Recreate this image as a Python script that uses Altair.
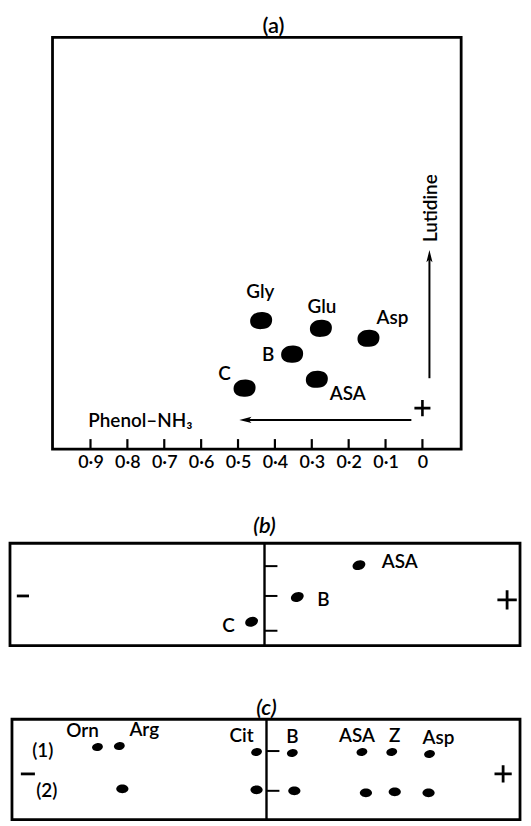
import altair as alt
import pandas as pd

FONT = "Lato"
W = 516

# ---------------- data ----------------
# (a) two-dimensional paper chromatogram: Rf phenol-NH3 (x), Rf lutidine (y)
a_names = ["Gly", "Glu", "Asp", "B", "C", "ASA"]
a_phenol = [0.437, 0.275, 0.146, 0.353, 0.482, 0.286]
a_lutidine = [0.237, 0.216, 0.189, 0.146, 0.054, 0.078]
a_tick_values = [0.0, 0.1, 0.2, 0.3, 0.4, 0.5, 0.6, 0.7, 0.8, 0.9]

# (b) paper electrophoresis: distance from origin (cm, + toward anode), lane position (cm from top)
b_names = ["ASA", "B", "C"]
b_dist = [1.90, 0.66, -0.26]
b_lane = [0.44, 1.08, 1.58]
b_origins = [0.46, 1.06, 1.76]

# (c) paper electrophoresis, two runs
c1_names = ["Orn", "Arg", "Cit", "B", "ASA", "Z", "Asp"]
c1_dist = [-3.40, -2.96, -0.20, 0.52, 1.92, 2.52, 3.28]
c1_lane = [0.56, 0.54, 0.66, 0.68, 0.66, 0.66, 0.70]
c2_names = ["Arg", "Cit", "B", "ASA", "Z", "Asp"]
c2_dist = [-2.90, -0.20, 0.56, 2.00, 2.58, 3.26]
c2_lane = [1.40, 1.42, 1.44, 1.48, 1.46, 1.48]
c_origins = [0.64, 1.44]
c_run_labels = ["(1)", "(2)"]

# ---------------- shapes ----------------
BLOB = ("M-1,0.05 C-1,-0.5 -0.5,-0.8 0.1,-0.78 C0.65,-0.76 1,-0.5 0.98,-0.05 "
        "C0.97,0.4 0.7,0.74 0.05,0.76 C-0.55,0.8 -1,0.55 -1,0.05 Z")
ELL = "M-1,0 A1,0.72 0 1,1 1,0 A1,0.72 0 1,1 -1,0 Z"
PLUS = "M-1,0 L1,0 M0,-1 L0,1"
MINUS = "M-1,0 L1,0"
HEAD_L = "M-1,0 L1,-0.5 L0.55,0 L1,0.5 Z"
HEAD_U = "M0,-1 L-0.5,1 L0,0.55 L0.5,1 Z"

TXT = dict(font=FONT, fontSize=19, fontWeight=600, color="black")
TTL = dict(font=FONT, fontSize=22, fontWeight=600, color="black")

# ================= panel (a) =================
AX = alt.Scale(domain=[-0.270, 1.121], reverse=True, nice=False, zero=False)
AY = alt.Scale(domain=[-0.113, 1.078], nice=False, zero=False)
AXIS_A = alt.Axis(values=a_tick_values, ticks=False, domain=False, grid=False,
                  title=None, labelFont=FONT, labelFontSize=18, labelColor="black",
                  labelPadding=4, labelFontWeight=600,
                  labelExpr="datum.value == 0 ? '0' : replace(format(datum.value, '.1f'), '.', '·')")


def ax(field, **kw):
    return alt.X(field, type="quantitative", scale=AX, axis=AXIS_A, **kw)


def ay(field):
    return alt.Y(field, type="quantitative", scale=AY, axis=None)


df_a = pd.DataFrame({"name": a_names, "x": a_phenol, "y": a_lutidine})
frame_a = pd.DataFrame({"x": [1.003], "x2": [-0.105], "y": [-0.111], "y2": [1.005]})
ticks_a = pd.DataFrame({"x": a_tick_values, "y": [-0.111] * 10, "y2": [-0.084] * 10})

a_layers = [
    alt.Chart(frame_a).mark_rect(fillOpacity=0, stroke="black", strokeWidth=2.8).encode(
        x=ax("x"), x2="x2", y=ay("y"), y2="y2"),
    alt.Chart(ticks_a).mark_rule(strokeWidth=2.2, color="black").encode(
        x=ax("x"), y=ay("y"), y2="y2"),
    alt.Chart(df_a).mark_point(shape=BLOB, filled=True, size=500, color="black",
                               opacity=1, strokeWidth=0).encode(x=ax("x"), y=ay("y")),
]

a_label_pos = {  # align, dx, dy (baseline)
    "Gly": ("center", -1, -23),
    "Glu": ("center", 1, -15),
    "Asp": ("left", 8, -14),
    "B": ("right", -18, 7),
    "C": ("right", -14, -8),
    "ASA": ("left", 13, 21),
}
for nm, (al, dx, dy) in a_label_pos.items():
    a_layers.append(
        alt.Chart(df_a).transform_filter(alt.datum.name == nm).mark_text(
            align=al, baseline="alphabetic", dx=dx, dy=dy, **TXT).encode(
            x=ax("x"), y=ay("y"), text="name:N"))

# origin, solvent directions
origin_a = pd.DataFrame({"x": [0.0], "y": [0.0]})
a_layers.append(alt.Chart(origin_a).mark_point(shape=PLUS, filled=False, strokeWidth=2.6,
                                               size=260, color="black", opacity=1).encode(
    x=ax("x"), y=ay("y")))
arrow_h = pd.DataFrame({"x": [0.03], "x2": [0.48], "y": [-0.032]})
a_layers.append(alt.Chart(arrow_h).mark_rule(strokeWidth=2, color="black").encode(
    x=ax("x"), x2="x2", y=ay("y")))
a_layers.append(alt.Chart(arrow_h).mark_point(shape=HEAD_L, filled=True, size=150,
                                              color="black", opacity=1).encode(
    x=ax("x2"), y=ay("y")))
arrow_v = pd.DataFrame({"x": [-0.019], "y": [0.081], "y2": [0.412]})
a_layers.append(alt.Chart(arrow_v).mark_rule(strokeWidth=2, color="black").encode(
    x=ax("x"), y=ay("y"), y2="y2"))
a_layers.append(alt.Chart(arrow_v).mark_point(shape=HEAD_U, filled=True, size=150,
                                              color="black", opacity=1).encode(
    x=ax("x"), y=ay("y2")))
solv = pd.DataFrame({"x": [0.906], "y": [-0.051], "t": ["Phenol–NH₃"]})
a_layers.append(alt.Chart(solv).mark_text(align="left", baseline="alphabetic", **TXT).encode(
    x=ax("x"), y=ay("y"), text="t:N"))
lut = pd.DataFrame({"x": [-0.024], "y": [0.542], "t": ["Lutidine"]})
a_layers.append(alt.Chart(lut).mark_text(align="center", baseline="middle", angle=270, **TXT).encode(
    x=ax("x"), y=ay("y"), text="t:N"))
ttl_a = pd.DataFrame({"x": [0.404], "y": [1.036], "t": ["(a)"]})
a_layers.append(alt.Chart(ttl_a).mark_text(align="center", baseline="middle", **TTL).encode(
    x=ax("x"), y=ay("y"), text="t:N"))

panel_a = alt.layer(*a_layers).properties(width=W, height=442)

# ================= panel (b) =================
BX = alt.Scale(domain=[-5.14, 5.18], nice=False, zero=False)
BY = alt.Scale(domain=[-1.88, 2.08], reverse=True, nice=False, zero=False)


def bx(field):
    return alt.X(field, type="quantitative", scale=BX, axis=None)


def by(field):
    return alt.Y(field, type="quantitative", scale=BY, axis=None)


df_b = pd.DataFrame({"name": b_names, "x": b_dist, "y": b_lane})
b_layers = [
    alt.Chart(pd.DataFrame({"x": [-5.12], "x2": [5.14], "y": [0.0], "y2": [2.06]}))
    .mark_rect(fillOpacity=0, stroke="black", strokeWidth=2.8).encode(
        x=bx("x"), x2="x2", y=by("y"), y2="y2"),
    alt.Chart(pd.DataFrame({"x": [0.0], "y": [0.0], "y2": [2.06]}))
    .mark_rule(strokeWidth=2.4, color="black").encode(x=bx("x"), y=by("y"), y2="y2"),
    alt.Chart(pd.DataFrame({"x": [0.0] * 3, "x2": [0.26] * 3, "y": b_origins}))
    .mark_rule(strokeWidth=2, color="black").encode(x=bx("x"), x2="x2", y=by("y")),
    alt.Chart(df_b).mark_point(shape=ELL, filled=True, size=175, color="black",
                               opacity=1, strokeWidth=0, angle=340).encode(x=bx("x"), y=by("y")),
]
b_label_pos = {"ASA": ("left", 23, 3), "B": ("left", 20, 9), "C": ("right", -17, 10)}
for nm, (al, dx, dy) in b_label_pos.items():
    b_layers.append(
        alt.Chart(df_b).transform_filter(alt.datum.name == nm).mark_text(
            align=al, baseline="alphabetic", dx=dx, dy=dy, **TXT).encode(
            x=bx("x"), y=by("y"), text="name:N"))
b_layers.append(alt.Chart(pd.DataFrame({"x": [-4.86], "y": [1.06]})).mark_point(
    shape=MINUS, filled=False, strokeWidth=2.8, size=150, color="black", opacity=1).encode(
    x=bx("x"), y=by("y")))
b_layers.append(alt.Chart(pd.DataFrame({"x": [4.88], "y": [1.14]})).mark_point(
    shape=PLUS, filled=False, strokeWidth=2.8, size=380, color="black", opacity=1).encode(
    x=bx("x"), y=by("y")))
b_layers.append(alt.Chart(pd.DataFrame({"x": [0.0], "y": [-0.34], "t": ["(b)"]})).mark_text(
    align="center", baseline="middle", fontStyle="italic", **TTL).encode(
    x=bx("x"), y=by("y"), text="t:N"))
panel_b = alt.layer(*b_layers).properties(width=W, height=198)

# ================= panel (c) =================
CX = alt.Scale(domain=[-5.18, 5.14], nice=False, zero=False)
CY = alt.Scale(domain=[-1.46, 2.06], reverse=True, nice=False, zero=False)


def cx(field):
    return alt.X(field, type="quantitative", scale=CX, axis=None)


def cy(field):
    return alt.Y(field, type="quantitative", scale=CY, axis=None)


df_c1 = pd.DataFrame({"name": c1_names, "x": c1_dist, "y": c1_lane})
df_c2 = pd.DataFrame({"name": c2_names, "x": c2_dist, "y": c2_lane})
c_layers = [
    alt.Chart(pd.DataFrame({"x": [-5.12], "x2": [5.10], "y": [0.0], "y2": [2.02]}))
    .mark_rect(fillOpacity=0, stroke="black", strokeWidth=2.8).encode(
        x=cx("x"), x2="x2", y=cy("y"), y2="y2"),
    alt.Chart(pd.DataFrame({"x": [0.0], "y": [0.0], "y2": [2.02]}))
    .mark_rule(strokeWidth=2.4, color="black").encode(x=cx("x"), y=cy("y"), y2="y2"),
    alt.Chart(pd.DataFrame({"x": [0.0] * 2, "x2": [0.26] * 2, "y": c_origins}))
    .mark_rule(strokeWidth=2, color="black").encode(x=cx("x"), x2="x2", y=cy("y")),
    alt.Chart(df_c1).mark_point(shape=ELL, filled=True, size=120, color="black",
                                opacity=1, strokeWidth=0, angle=350).encode(x=cx("x"), y=cy("y")),
    alt.Chart(df_c2).mark_point(shape=ELL, filled=True, size=150, color="black",
                                opacity=1, strokeWidth=0).encode(x=cx("x"), y=cy("y")),
]
c_label_dx = {"Orn": -15, "Arg": 25, "Cit": -15, "B": 0, "ASA": -5, "Z": 3, "Asp": 9}
for nm, dx in c_label_dx.items():
    c_layers.append(
        alt.Chart(df_c1).transform_filter(alt.datum.name == nm).mark_text(
            align="center", baseline="alphabetic", dx=dx, dy=-10, **TXT).encode(
            x=cx("x"), y=cy("y"), text="name:N"))
c_layers.append(alt.Chart(pd.DataFrame({"x": [-4.50, -4.42], "y": c_origins, "t": c_run_labels}))
                .mark_text(align="center", baseline="middle", **TXT).encode(
    x=cx("x"), y=cy("y"), text="t:N"))
c_layers.append(alt.Chart(pd.DataFrame({"x": [-4.80], "y": [1.10]})).mark_point(
    shape=MINUS, filled=False, strokeWidth=2.8, size=200, color="black", opacity=1).encode(
    x=cx("x"), y=cy("y")))
c_layers.append(alt.Chart(pd.DataFrame({"x": [4.76], "y": [1.10]})).mark_point(
    shape=PLUS, filled=False, strokeWidth=2.8, size=300, color="black", opacity=1).encode(
    x=cx("x"), y=cy("y")))
c_layers.append(alt.Chart(pd.DataFrame({"x": [0.0], "y": [-0.22], "t": ["(c)"]})).mark_text(
    align="center", baseline="middle", fontStyle="italic", **TTL).encode(
    x=cx("x"), y=cy("y"), text="t:N"))
panel_c = alt.layer(*c_layers).properties(width=W, height=176)

chart = alt.vconcat(panel_a, panel_b, panel_c, spacing=0, bounds="flush").properties(
    padding=0, background="white").configure_view(stroke=None, strokeWidth=0)

chart.save("out.html", embed_options={"renderer": "svg", "actions": False})
